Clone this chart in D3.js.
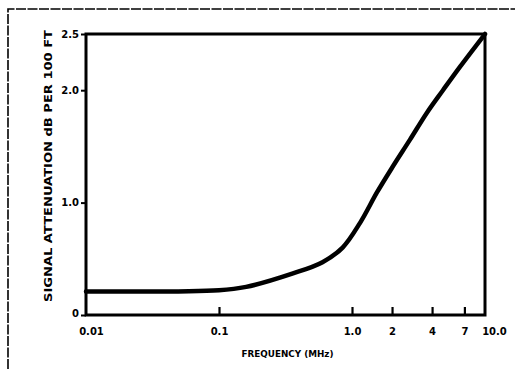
<!DOCTYPE html>
<html>
<head>
<meta charset="utf-8">
<script src="https://cdn.jsdelivr.net/npm/d3@7"></script>
<style>
  body { margin: 0; background: #fff; }
  svg text { font-family: "DejaVu Sans", Arial, sans-serif; font-weight: bold; fill: #000; }
</style>
</head>
<body>
<div id="chart"></div>
<script>
// curve: frequency (MHz) vs attenuation (dB per 100 ft)
const freq = [0.01, 0.1, 0.16, 0.36, 0.6, 0.85, 1.15, 1.54, 2.0, 2.73, 3.66, 4.83, 6.5, 10]
const atten = [0.21, 0.22, 0.25, 0.37, 0.47, 0.60, 0.82, 1.09, 1.31, 1.56, 1.80, 2.00, 2.21, 2.5]

const xTicks = [0.01, 0.1, 1.0, 2, 4, 7, 10]
const xTickLabels = ["0.01", "0.1", "1.0", "2", "4", "7", "10.0"]
const yTicks = [0, 1.0, 2.0, 2.5]
const yTickLabels = ["0", "1.0", "2.0", "2.5"]

const width = 515, height = 369
const margin = { top: 34, right: 30, bottom: 54, left: 86 }

const svg = d3.select("#chart")
    .append("svg")
    .attr("width", width)
    .attr("height", height)

const xScale = d3.scaleLog().domain([0.01, 10]).range([margin.left, width - margin.right])
const yScale = d3.scaleLinear().domain([0, 2.5]).range([height - margin.bottom, margin.top])

// outer frame of the scanned figure (top + left edge only)
svg.append("path")
    .attr("d", `M8,${height} L8,9 L${width},9`)
    .attr("fill", "none")
    .attr("stroke", "#000")
    .attr("stroke-width", 1.6)
    .attr("stroke-dasharray", "10,1.5")

// bottom axis, ticks pointing up into the plot
const xaxis = d3.axisBottom(xScale)
    .tickValues(xTicks)
    .tickSize(-8)
    .tickPadding(13)
    .tickFormat((d, i) => xTickLabels[i])

const gx = svg.append("g")
    .attr("transform", `translate(0,${height - margin.bottom})`)
    .call(xaxis)
gx.select(".domain").remove()
gx.selectAll("line").attr("stroke", "#000").attr("stroke-width", 2.2)
gx.selectAll("text").attr("font-size", 10).attr("dy", "0.7em")
gx.selectAll(".tick").filter(d => d === 0.01 || d === 10).select("line").remove()
gx.selectAll(".tick").filter(d => d === 0.01).select("text").attr("dx", 5)
gx.selectAll(".tick").filter(d => d === 10).select("text").attr("dx", 9)

const yaxis = d3.axisLeft(yScale)
    .tickValues(yTicks)
    .tickSize(5)
    .tickPadding(2)
    .tickFormat((d, i) => yTickLabels[i])

const gy = svg.append("g")
    .attr("transform", `translate(${margin.left},0)`)
    .call(yaxis)
gy.select(".domain").remove()
gy.selectAll("line").attr("stroke", "#000").attr("stroke-width", 2)
gy.selectAll("text").attr("font-size", 10)
gy.selectAll(".tick").filter(d => d === 0).select("text").attr("dy", "0.1em")

// plot frame
svg.append("rect")
    .attr("x", margin.left)
    .attr("y", margin.top)
    .attr("width", width - margin.left - margin.right)
    .attr("height", height - margin.top - margin.bottom)
    .attr("fill", "none")
    .attr("stroke", "#000")
    .attr("stroke-width", 3)

const line = d3.line()
    .x((d, i) => xScale(freq[i]))
    .y(d => yScale(d))
    .curve(d3.curveCatmullRom)

svg.append("path")
    .datum(atten)
    .attr("d", line)
    .attr("fill", "none")
    .attr("stroke", "#000")
    .attr("stroke-width", 4.5)
    .attr("stroke-linecap", "round")

// axis titles
svg.append("text")
    .attr("x", (margin.left + width - margin.right) / 2 + 2)
    .attr("y", 357)
    .attr("text-anchor", "middle")
    .attr("font-size", 9.5)
    .attr("textLength", 92)
    .attr("lengthAdjust", "spacingAndGlyphs")
    .text("FREQUENCY (MHz)")

svg.append("text")
    .attr("transform", `translate(52,166) rotate(-90)`)
    .attr("text-anchor", "middle")
    .attr("font-size", 11)
    .attr("textLength", 272)
    .attr("lengthAdjust", "spacingAndGlyphs")
    .text("SIGNAL ATTENUATION dB PER 100 FT")
</script>
</body>
</html>
